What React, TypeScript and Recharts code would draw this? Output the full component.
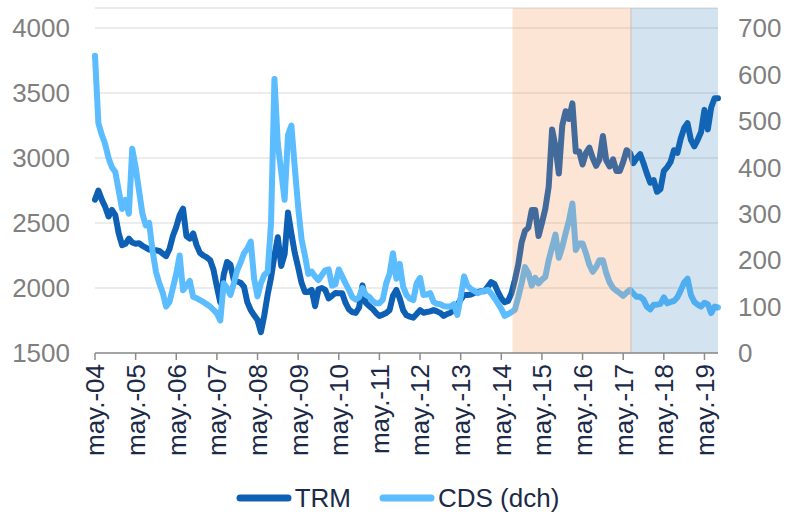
import React from 'react';
import {
  ComposedChart,
  Line,
  XAxis,
  YAxis,
  CartesianGrid,
  ReferenceArea,
  ReferenceLine,
  Legend
} from 'recharts';

// month index 0 = may-04, one value per month
const trm = [
  2680, 2750, 2680, 2625, 2550, 2600, 2560, 2420, 2330, 2340, 2380, 2350,
  2340, 2345, 2325, 2310, 2295, 2290, 2290, 2285, 2265, 2245, 2300, 2400,
  2470, 2560, 2610, 2400, 2380, 2420, 2330, 2270, 2250, 2235, 2215, 2140,
  2010, 1890, 2100, 2200, 2180, 2060, 2050, 2040, 2010, 1890, 1830, 1790,
  1755, 1660, 1790, 1950, 2080, 2250, 2390, 2170, 2260, 2580, 2420, 2270,
  2160, 2040, 1970, 1970, 1985, 1860, 1990, 2000, 1985, 1920, 1940, 1962,
  1960, 1960, 1885, 1835, 1815, 1808, 1850, 2020, 1885, 1860, 1840, 1808,
  1785, 1795, 1808, 1830, 1940, 1985, 1920, 1830, 1790, 1780, 1772, 1800,
  1830, 1810, 1815, 1820, 1830, 1820, 1808, 1785, 1800, 1810, 1830, 1870,
  1910, 1946, 1946, 1950, 1962, 1970, 1975, 1975, 2010, 2045, 2030, 1970,
  1920, 1890, 1900, 1960, 2060, 2180, 2350, 2440, 2465, 2600, 2600, 2400,
  2500, 2610, 2780, 3220, 3087, 2880, 3250, 3360, 3300, 3420, 3050, 3050,
  2950, 3040, 3080, 3000, 2940, 2990, 3170, 2980, 2935, 2990, 2900, 2900,
  2970, 3060, 3040, 2960, 3000, 3030, 2960, 2880, 2810, 2830, 2740, 2760,
  2900, 2930, 2970, 3060, 3040, 3150, 3230, 3267, 3140, 3090, 3140, 3200,
  3370, 3220, 3390, 3460, 3460
];

const cds = [
  640, 495, 470, 450, 420, 400, 390, 350, 310, 330, 300, 440,
  400, 350, 300, 275, 280, 220, 175, 150, 130, 100, 110, 140,
  170, 210, 135, 145, 155, 121, 118, 114, 110, 105, 100, 93,
  85, 70, 150, 140, 125, 150, 178, 195, 215, 225, 240, 160,
  122, 150, 168, 175, 280, 590, 450, 390, 330, 470, 490, 400,
  315, 245, 210, 170, 175, 165, 157, 168, 178, 180, 145, 148,
  180, 165, 150, 136, 120, 115, 120, 140, 125, 121, 112, 107,
  107, 115, 150, 170, 215, 160, 192, 143, 125, 117, 114, 150,
  162, 125, 126, 129, 110, 106, 105, 101, 100, 100, 105, 82,
  120, 165, 145, 138, 134, 129, 132, 134, 136, 128, 118, 107,
  95, 80, 84, 88, 93, 120, 150, 185, 172, 145, 162, 150,
  158, 164, 200, 228, 255, 205, 228, 258, 286, 322, 222, 236,
  236, 215, 190, 175, 185, 200, 200, 172, 152, 140, 134, 129,
  123, 130, 136, 128, 121, 121, 115, 100, 94, 104, 104, 106,
  120, 107, 110, 112, 120, 135, 152, 160, 125, 110, 104, 100,
  108, 105, 86, 100, 98
];

const tickMonths = [0, 12, 24, 36, 48, 60, 72, 84, 96, 108, 120, 132, 144, 156, 168, 180];
const tickLabels = [
  'may.-04', 'may.-05', 'may.-06', 'may.-07', 'may.-08', 'may.-09', 'may.-10', 'may.-11',
  'may.-12', 'may.-13', 'may.-14', 'may.-15', 'may.-16', 'may.-17', 'may.-18', 'may.-19'
];
const leftTicks = [1500, 2000, 2500, 3000, 3500, 4000];
const rightTicks = [0, 100, 200, 300, 400, 500, 600, 700];

// shaded periods (month index)
const orangeStart = 123.3;
const blueStart = 158.3;
const lastMonth = 184;

const chartData = trm.map((v, i) => ({ t: i, trm: v, cds: cds[i] }));

const FONT = '"Liberation Sans", Arial, sans-serif';
const NAVY = '#1b2a47';
const TRM_COLOR = '#0e60b4';
const CDS_COLOR = '#5bbcff';

const XTick = ({ x, y, payload }: any) => (
  <g transform={`translate(${x},${y})`}>
    <text
      x={0}
      y={0}
      dy="0.36em"
      textAnchor="end"
      transform="rotate(-90)"
      fill={NAVY}
      fontSize={26}
      fontFamily={FONT}
    >
      {tickLabels[tickMonths.indexOf(payload.value)]}
    </text>
  </g>
);

const renderLegend = () => {
  const items = [
    { name: 'TRM', color: TRM_COLOR },
    { name: 'CDS (dch)', color: CDS_COLOR }
  ];
  return (
    <div
      style={{
        height: 40,
        display: 'flex',
        justifyContent: 'center',
        alignItems: 'center',
        paddingTop: 8,
        paddingLeft: 8,
        boxSizing: 'border-box',
        fontFamily: FONT
      }}
    >
      {items.map((it, i) => (
        <div key={it.name} style={{ display: 'flex', alignItems: 'center', marginLeft: i ? 28 : 0 }}>
          <svg width={56} height={8} style={{ marginRight: 3 }}>
            <line x1={4} y1={4} x2={52} y2={4} stroke={it.color} strokeWidth={7} strokeLinecap="round" />
          </svg>
          <span style={{ fontSize: 26, color: NAVY, lineHeight: '30px' }}>{it.name}</span>
        </div>
      ))}
    </div>
  );
};

export default function App() {
  return (
    <div style={{ position: 'absolute', left: 0, top: 0, width: 787, height: 514, background: '#fff' }}>
      <ComposedChart
        width={787}
        height={514}
        data={chartData}
        margin={{ top: 8, right: 0, bottom: 0, left: 0 }}
      >
        <CartesianGrid yAxisId="left" vertical={false} stroke="#d9d9d9" strokeWidth={1} />
        <XAxis
          dataKey="t"
          type="number"
          domain={[0, lastMonth]}
          ticks={tickMonths}
          interval={0}
          height={121}
          tick={<XTick />}
          tickSize={7}
          tickMargin={4}
          axisLine={{ stroke: '#8c8c8c', strokeWidth: 1.5 }}
          tickLine={{ stroke: '#8c8c8c', strokeWidth: 1.5 }}
        />
        <YAxis
          yAxisId="left"
          type="number"
          domain={[1500, 4153.85]}
          ticks={leftTicks}
          width={95}
          axisLine={false}
          tickLine={false}
          tickMargin={19}
          tick={{ fill: '#7f7f7f', fontSize: 26, fontFamily: FONT }}
        />
        <YAxis
          yAxisId="right"
          orientation="right"
          type="number"
          domain={[0, 743.08]}
          ticks={rightTicks}
          width={69}
          axisLine={false}
          tickLine={false}
          tickMargin={14}
          tick={{ fill: '#7f7f7f', fontSize: 26, fontFamily: FONT, textAnchor: 'start' }}
        />
        <Line
          yAxisId="left"
          dataKey="trm"
          name="TRM"
          stroke={TRM_COLOR}
          strokeWidth={6}
          strokeLinejoin="round"
          strokeLinecap="round"
          dot={false}
          isAnimationActive={false}
        />
        <Line
          yAxisId="right"
          dataKey="cds"
          name="CDS (dch)"
          stroke={CDS_COLOR}
          strokeWidth={6}
          strokeLinejoin="round"
          strokeLinecap="round"
          dot={false}
          isAnimationActive={false}
        />
        <ReferenceArea
          yAxisId="left"
          x1={orangeStart}
          x2={blueStart}
          fill="#f38f46"
          fillOpacity={0.23}
          stroke="none"
          zIndex={450}
        />
        <ReferenceArea
          yAxisId="left"
          x1={blueStart}
          x2={lastMonth}
          fill="#2378b4"
          fillOpacity={0.2}
          stroke="none"
          zIndex={450}
        />
        <ReferenceLine yAxisId="left" x={blueStart} stroke="#cbbfb6" strokeWidth={1} zIndex={450} />
        <Legend verticalAlign="bottom" height={40} content={renderLegend} />
      </ComposedChart>
    </div>
  );
}
